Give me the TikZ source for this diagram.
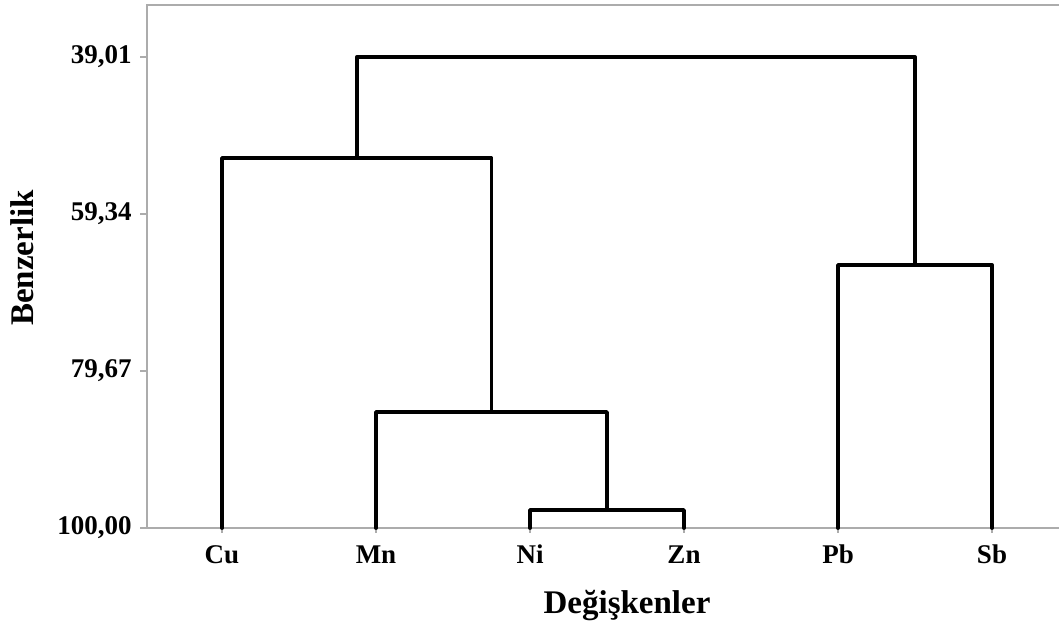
\documentclass[tikz,border=0pt]{standalone}
\usepackage{fontspec}
\setmainfont{Liberation Serif}
\usetikzlibrary{positioning}
\tikzset{
  link/.style={line width=1.9pt, line join=round, line cap=round},
  axisline/.style={line width=0.75pt, color=gray!65},
  ticklabel/.style={font=\fontsize{13.5}{16}\selectfont\bfseries, inner sep=0pt},
  axislabel/.style={font=\fontsize{16.5}{19}\selectfont\bfseries, inner sep=0pt}
}

\begin{document}
\begin{tikzpicture}[x=0.5pt,y=-0.5pt]
	\useasboundingbox (0,0) rectangle (1059,623);

	% Frame (left and top sides, bottom axis)
	\draw[axisline] (1059,5) -- (147,5) -- (147,528);
	\draw[axisline] (140,528) -- (1059,528);

	% y axis ticks
	\foreach \y/\val in {57/{39,01},214/{59,34},371/{79,67},528/{100,00}}{
		\draw[axisline] (140,\y) -- (147,\y);
		\node[ticklabel, anchor=east, text height=0.68em, text depth=0pt] at (132,\y) {\val};
	}

	% leaves
	\foreach \name/\x in {Cu/222,Mn/376,Ni/530,Zn/684,Pb/838,Sb/992}{
		\coordinate (\name) at (\x,528);
		\draw[axisline] (\x,528) -- (\x,533);
		\node[ticklabel, anchor=base] (\name-label) at (\x,563) {\name};
	}

	% merge points
	\coordinate (NiZn) at (607,510);
	\coordinate (MnNiZn) at (491.5,412);
	\coordinate (CuRest) at (356.75,158);
	\coordinate (PbSb) at (915,265);
	\coordinate (Root) at (636,57);

	% Dendrogram
	\draw[link] (Ni) |- (NiZn) -| (Zn);
	\draw[link] (Mn) |- (MnNiZn) -| (NiZn);
	\draw[link] (Cu) |- (CuRest) -| (MnNiZn);
	\draw[link] (Pb) |- (PbSb) -| (Sb);
	\draw[link] (CuRest) |- (Root) -| (PbSb);

	% axis titles
	\node[axislabel, anchor=base] (xtitle) at (627,613) {Değişkenler};
	\node[axislabel, anchor=base, rotate=90] (ytitle) at (33,258) {Benzerlik};
\end{tikzpicture}
\end{document}
